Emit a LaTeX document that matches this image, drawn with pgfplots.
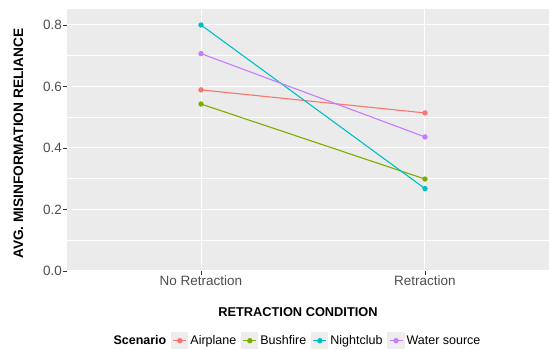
\documentclass[border=0pt]{standalone}
\usepackage{fontspec}
\setmainfont{Liberation Sans}
\usepackage{pgfplots}
\pgfplotsset{compat=1.18}
\definecolor{cA}{HTML}{F8766D}
\definecolor{cB}{HTML}{7CAE00}
\definecolor{cC}{HTML}{00BFC4}
\definecolor{cD}{HTML}{C77CFF}
\definecolor{panel}{HTML}{EBEBEB}
\definecolor{tickgrey}{HTML}{4D4D4D}
\definecolor{tickline}{HTML}{333333}
\definecolor{keygrey}{HTML}{EDEDED}
\begin{document}
\begin{tikzpicture}[x=1pt,y=1pt]
\path[use as bounding box] (0,0) rectangle (550,350);
\begin{axis}[
  at={(66.7pt,79pt)}, anchor=south west,
  scale only axis, width=482.3pt, height=262pt,
  xmin=0.4004, xmax=2.5536, ymin=0, ymax=0.852,
  xtick={1,2}, xticklabels={No Retraction, Retraction},
  ytick={0,0.2,0.4,0.6,0.8}, minor ytick={0.1,0.3,0.5,0.7},
  /pgf/number format/.cd, fixed, fixed zerofill, precision=1, assume math mode=true, /pgfplots/.cd,
  axis background/.style={fill=panel},
  axis line style={draw=none},
  tick style={tickline, line width=0.8pt},
  major tick length=3.6pt, minor tick length=0pt,
  tick align=outside, tick pos=left,
  ymajorgrids, yminorgrids, xmajorgrids,
  major grid style={white, line width=1.0pt},
  minor grid style={white, line width=0.5pt},
  ticklabel style={font=\fontsize{13.5}{16}\selectfont, text=tickgrey},
  xticklabel style={inner sep=1pt},
  yticklabel style={inner sep=1pt},
  xlabel={RETRACTION CONDITION},
  xlabel style={at={(axis description cs:0.4795,-0.1553)}, anchor=center, font=\bfseries\fontsize{12.8}{15}\selectfont},
  ylabel={AVG. MISINFORMATION RELIANCE},
  ylabel style={at={(axis description cs:-0.100,0.4855)}, anchor=center, font=\bfseries\fontsize{13.7}{15}\selectfont},
  legend columns=-1,
  legend style={at={(axis description cs:0.4775,-0.266)}, anchor=center, draw=none, fill=none,
    font=\fontsize{12.5}{15}\selectfont,
    /tikz/every even column/.append style={column sep=3pt}},
  legend image code/.code={
    \fill[keygrey] (0pt,-8pt) rectangle (16pt,8pt);
    \draw[mark repeat=2,mark phase=2,#1] plot coordinates {(1.5pt,0pt) (8pt,0pt) (14.5pt,0pt)};
  },
  every axis plot/.append style={line width=1.1pt, mark=*, mark size=2.1pt, mark options={solid}},
]
\addlegendimage{empty legend}
\addlegendentry{\textbf{Scenario}}
\addplot[cA] coordinates {(1,0.589) (2,0.514)};
\addlegendentry{Airplane}
\addplot[cB] coordinates {(1,0.543) (2,0.299)};
\addlegendentry{Bushfire}
\addplot[cC] coordinates {(1,0.800) (2,0.268)};
\addlegendentry{Nightclub}
\addplot[cD] coordinates {(1,0.707) (2,0.436)};
\addlegendentry{Water source}
\end{axis}
\end{tikzpicture}
\end{document}
